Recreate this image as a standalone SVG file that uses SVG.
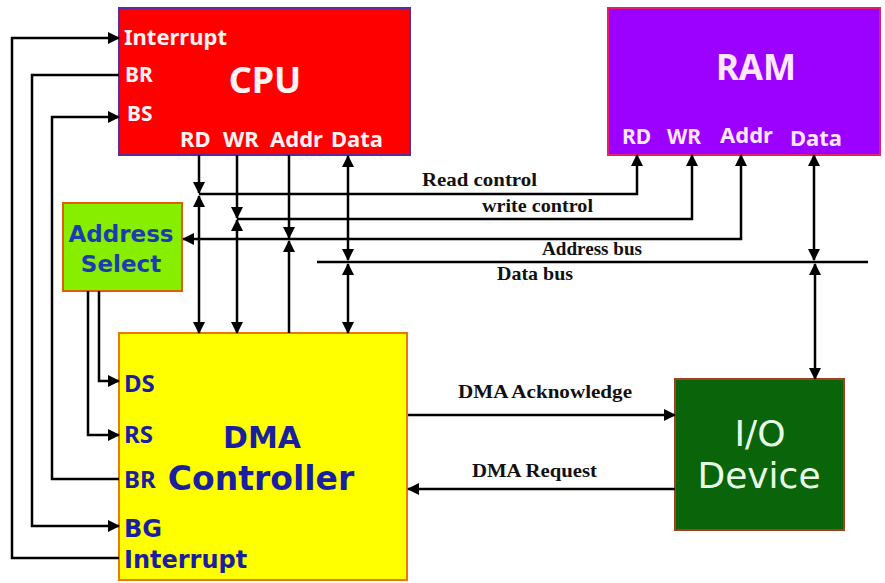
<svg xmlns="http://www.w3.org/2000/svg" width="885" height="583" viewBox="0 0 885 583">
<defs>
<marker id="ah" viewBox="0 0 12 12" markerUnits="userSpaceOnUse" markerWidth="12" markerHeight="12" refX="11" refY="6" orient="auto-start-reverse">
<path d="M0,0 L12,6 L0,12 z" fill="#000"/>
</marker>
<style>
.ln{fill:none;stroke:#000;stroke-width:2.5}
.a{marker-end:url(#ah)}
.b{marker-start:url(#ah);marker-end:url(#ah)}
.sans{font-family:"Noto Sans","DejaVu Sans",sans-serif;font-weight:bold}
.dv{font-family:"DejaVu Sans",sans-serif;font-weight:bold}
.serif{font-family:"Liberation Serif","Times New Roman",serif;font-weight:bold;font-size:19px;fill:#111}
.w{fill:#fff2f2}
.pw{fill:#ffe8ff}
.blue{fill:#1a1fa0}
</style>
</defs>
<rect width="885" height="583" fill="#fff"/>

<g id="cpu">
<rect x="119" y="8" width="291" height="147" fill="#ff0000" stroke="#5b2a9e" stroke-width="2"/>
<text class="sans w" x="124" y="45" font-size="22">Interrupt</text>
<text class="sans w" x="125" y="82" font-size="21">BR</text>
<text class="sans w" x="127" y="121" font-size="21">BS</text>
<text class="sans w" x="265" y="93" font-size="36" text-anchor="middle">CPU</text>
<text class="sans w" x="180" y="147" font-size="22">RD</text>
<text class="sans w" x="223" y="147" font-size="22">WR</text>
<text class="sans w" x="270" y="147" font-size="22">Addr</text>
<text class="sans w" x="331" y="147" font-size="22">Data</text>
</g>

<g id="ram">
<rect x="608" y="8" width="272" height="147" fill="#9c00ff" stroke="#e0206a" stroke-width="2"/>
<text class="sans pw" x="756" y="80" font-size="35" text-anchor="middle">RAM</text>
<text class="sans pw" x="622" y="144" font-size="21">RD</text>
<text class="sans pw" x="667" y="144" font-size="21">WR</text>
<text class="sans pw" x="720" y="143" font-size="22">Addr</text>
<text class="sans pw" x="790" y="146" font-size="22">Data</text>
</g>

<g id="address-select">
<rect x="63" y="203" width="119" height="88" fill="#88ee00" stroke="#e06000" stroke-width="2"/>
<text class="dv" x="121" y="242" font-size="23" text-anchor="middle" fill="#1a3cb0">Address</text>
<text class="dv" x="121" y="272" font-size="23" text-anchor="middle" fill="#1a3cb0">Select</text>
</g>

<g id="dma">
<rect x="119" y="333" width="288" height="247" fill="#ffff00" stroke="#e87a00" stroke-width="2"/>
<text class="sans blue" x="124" y="392" font-size="24">DS</text>
<text class="sans blue" x="124" y="443" font-size="24">RS</text>
<text class="sans blue" x="124" y="488" font-size="24">BR</text>
<text class="dv blue" x="124" y="537" font-size="24">BG</text>
<text class="dv blue" x="124" y="568" font-size="24">Interrupt</text>
<text class="dv blue" x="262" y="448" font-size="30" text-anchor="middle">DMA</text>
<text class="dv blue" x="261" y="490" font-size="33" text-anchor="middle">Controller</text>
</g>

<g id="io-device">
<rect x="675" y="379" width="169" height="151" fill="#0a640a" stroke="#a04020" stroke-width="2"/>
<text x="760" y="446" font-family="DejaVu Sans, sans-serif" font-size="36" text-anchor="middle" fill="#e8ffe8">I/O</text>
<text x="759" y="488" font-family="DejaVu Sans, sans-serif" font-size="36" text-anchor="middle" fill="#e8ffe8">Device</text>
</g>

<g id="connectors">
<path class="ln a" d="M199,155 V193"/>
<path class="ln a" d="M199,194 H637 V155"/>
<path class="ln b" d="M199,196 V333"/>
<path class="ln a" d="M237,155 V218"/>
<path class="ln a" d="M237,219 H692 V155"/>
<path class="ln b" d="M237,220 V333"/>
<path class="ln a" d="M289,155 V238"/>
<path class="ln b" d="M183,239 H741 V155"/>
<path class="ln a" d="M289,333 V241"/>
<path class="ln b" d="M348,156 V260"/>
<path class="ln" d="M317,262 H868"/>
<path class="ln b" d="M348,264 V333"/>
<path class="ln b" d="M814,155 V260"/>
<path class="ln b" d="M815,264 V379"/>
<path class="ln a" d="M408,415 H675"/>
<path class="ln a" d="M675,489 H408"/>
<path class="ln a" d="M119,558 H12 V38 H119"/>
<path class="ln a" d="M119,75 H32 V526 H119"/>
<path class="ln a" d="M119,479 H52 V117 H119"/>
<path class="ln a" d="M99,291 V381 H119"/>
<path class="ln a" d="M88,291 V435 H119"/>
</g>

<g id="labels">
<text class="serif" x="422" y="186" textLength="115" lengthAdjust="spacingAndGlyphs">Read control</text>
<text class="serif" x="482" y="212" textLength="111" lengthAdjust="spacingAndGlyphs">write control</text>
<text class="serif" x="542" y="255" textLength="100" lengthAdjust="spacingAndGlyphs">Address bus</text>
<text class="serif" x="497" y="280" textLength="76" lengthAdjust="spacingAndGlyphs">Data bus</text>
<text class="serif" x="458" y="398" textLength="174" lengthAdjust="spacingAndGlyphs">DMA Acknowledge</text>
<text class="serif" x="472" y="477" textLength="125" lengthAdjust="spacingAndGlyphs">DMA Request</text>
</g>
</svg>
